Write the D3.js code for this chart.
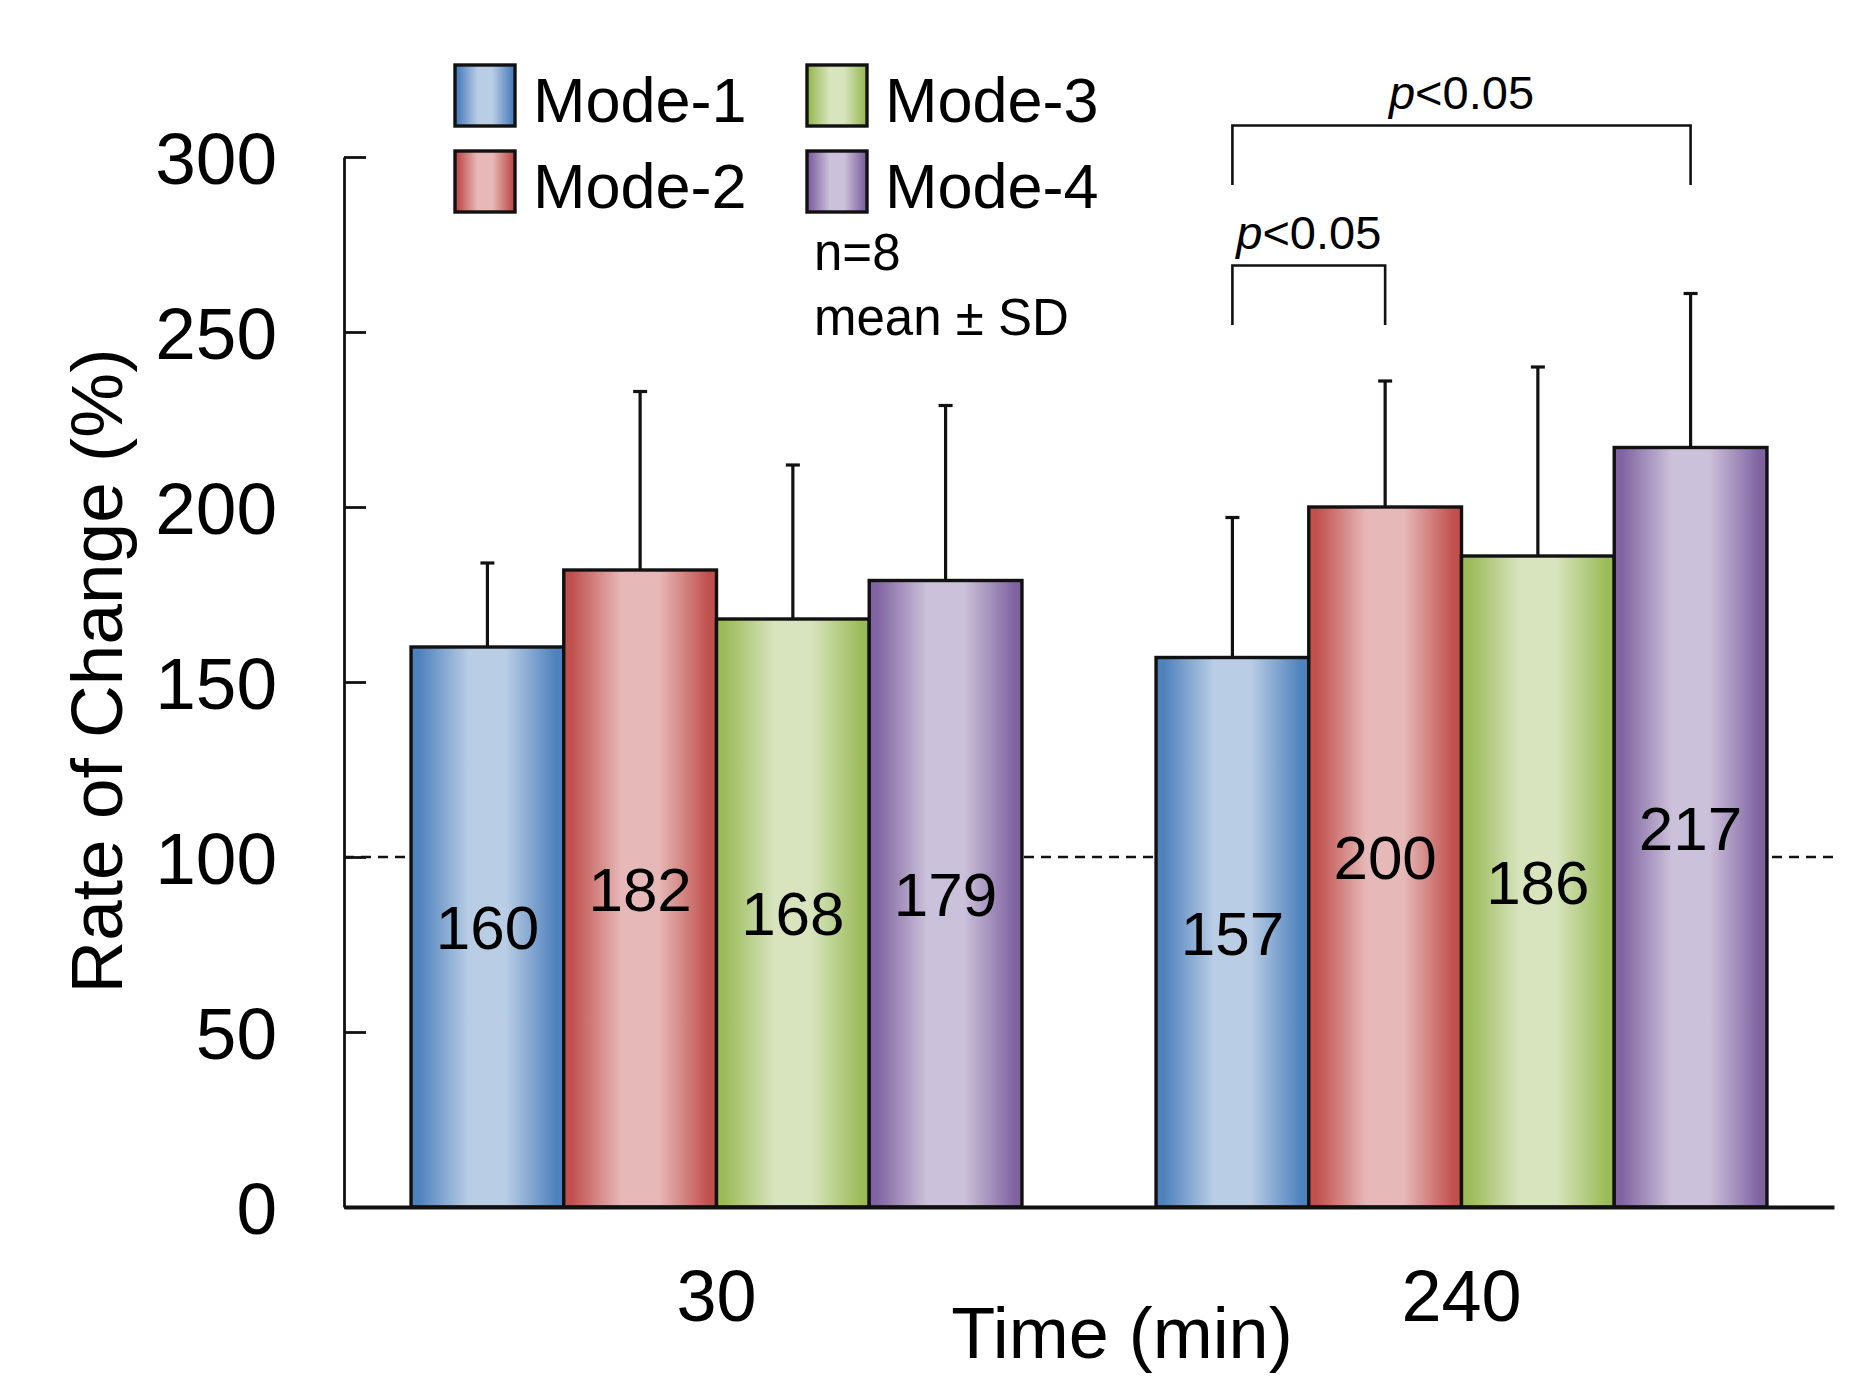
<!DOCTYPE html>
<html>
<head>
<meta charset="utf-8">
<script src="https://cdn.jsdelivr.net/npm/d3@7"></script>
<style>
  html, body { margin: 0; padding: 0; background: #fff; }
  svg { display: block; font-family: "Liberation Sans", Arial, sans-serif; }
</style>
</head>
<body>
<div id="chart"></div>
<script>
// Data
const times = ["30", "240"];
const modes = ["Mode-1", "Mode-2", "Mode-3", "Mode-4"];
const means30 = [160, 182, 168, 179];
const means240 = [157, 200, 186, 217];
const sd30 = [24, 51, 44, 50];
const sd240 = [40, 36, 54, 44];
const yTicks = [0, 50, 100, 150, 200, 250, 300];
const refLine = 100;
// significance brackets (group 240), heights in data units
const brackets = [
    { time: "240", from: "Mode-1", to: "Mode-4", top: 309, leg: 292, label: "<0.05" },
    { time: "240", from: "Mode-1", to: "Mode-2", top: 269, leg: 252, label: "<0.05" }
];

const edgeColors = ["#4f81bd", "#c0504d", "#9bbb59", "#8064a2"];
const lightColors = ["#b9cde5", "#e6b9b8", "#d7e4bd", "#ccc1da"];

const W = 1852, H = 1399;
const FONT = "'Liberation Sans', Arial, sans-serif";

const rows = [];
times.forEach((t, ti) => {
    const m = ti === 0 ? means30 : means240;
    const s = ti === 0 ? sd30 : sd240;
    modes.forEach((md, i) => rows.push({ time: t, mode: md, i, mean: m[i], sd: s[i] }));
});

const svg = d3.select("#chart").append("svg")
    .attr("width", W).attr("height", H);

// gradients: dark edges, light middle
const defs = svg.append("defs");
modes.forEach((md, i) => {
    const g = defs.append("linearGradient")
        .attr("id", "grad" + i)
        .attr("x1", "0%").attr("x2", "100%").attr("y1", "0%").attr("y2", "0%");
    [[0, edgeColors[i]], [0.05, edgeColors[i]], [0.38, lightColors[i]],
     [0.62, lightColors[i]], [0.95, edgeColors[i]], [1, edgeColors[i]]]
        .forEach(([o, c]) => g.append("stop").attr("offset", o).attr("stop-color", c));
});

const y = d3.scaleLinear().domain([0, 300]).range([1207, 157]);
const x0 = d3.scaleBand().domain(times).range([344, 1834])
    .paddingInner(0.18).paddingOuter(0.09);
const x1 = d3.scaleBand().domain(modes).range([0, x0.bandwidth()]);
const cx = d => x0(d.time) + x1(d.mode) + x1.bandwidth() / 2;

// dashed 100% reference line (behind bars)
svg.append("line")
    .attr("x1", 344).attr("x2", 1834)
    .attr("y1", y(refLine)).attr("y2", y(refLine))
    .attr("stroke", "#111").attr("stroke-width", 2.6)
    .attr("stroke-dasharray", "10,7");

// error bars (upper SD only)
const err = svg.append("g").attr("stroke", "#111").attr("stroke-width", 3.2);
err.selectAll("line.v").data(rows).join("line").attr("class", "v")
    .attr("x1", cx).attr("x2", cx)
    .attr("y1", d => y(d.mean)).attr("y2", d => y(d.mean + d.sd));
err.selectAll("line.c").data(rows).join("line").attr("class", "c")
    .attr("x1", d => cx(d) - 7).attr("x2", d => cx(d) + 7)
    .attr("y1", d => y(d.mean + d.sd)).attr("y2", d => y(d.mean + d.sd));

// bars
svg.append("g").selectAll("rect").data(rows).join("rect")
    .attr("x", d => x0(d.time) + x1(d.mode))
    .attr("y", d => y(d.mean))
    .attr("width", x1.bandwidth())
    .attr("height", d => y(0) - y(d.mean))
    .attr("fill", d => `url(#grad${d.i})`)
    .attr("stroke", "#111").attr("stroke-width", 3.4);

// value labels in the middle of each bar
svg.append("g").selectAll("text").data(rows).join("text")
    .attr("x", cx)
    .attr("y", d => y(d.mean / 2))
    .attr("dy", "0.36em")
    .attr("text-anchor", "middle")
    .attr("font-size", 62)
    .attr("fill", "#000")
    .text(d => d.mean);

// y axis
const yAxis = svg.append("g")
    .attr("transform", "translate(344,0)")
    .call(d3.axisLeft(y).tickValues(yTicks).tickSize(-22).tickSizeOuter(0).tickPadding(67));
yAxis.select(".domain").attr("stroke", "#111").attr("stroke-width", 2.8);
yAxis.selectAll(".tick line").attr("stroke", "#111").attr("stroke-width", 2.8);
yAxis.selectAll(".tick text")
    .attr("font-size", 73).attr("font-family", FONT).attr("fill", "#000").attr("dy", "0.36em");

// x axis
const xAxis = svg.append("g")
    .attr("transform", `translate(0,${y(0)})`)
    .call(d3.axisBottom(x0).tickSize(0).tickSizeOuter(0).tickPadding(63));
xAxis.select(".domain").attr("stroke", "#111").attr("stroke-width", 3.8);
xAxis.selectAll(".tick text")
    .attr("font-size", 72).attr("font-family", FONT).attr("fill", "#000");

// axis titles
svg.append("text")
    .attr("transform", "translate(122,671) rotate(-90)")
    .attr("text-anchor", "middle")
    .attr("font-size", 73)
    .text("Rate of Change (%)");
svg.append("text")
    .attr("x", 1122).attr("y", 1358)
    .attr("text-anchor", "middle")
    .attr("font-size", 72)
    .text("Time (min)");

// legend
const legend = svg.append("g");
const legendPos = [[455, 65], [455, 151], [807, 65], [807, 151]];
modes.forEach((md, i) => {
    const [lx, ly] = legendPos[i];
    legend.append("rect")
        .attr("x", lx).attr("y", ly).attr("width", 60).attr("height", 61)
        .attr("fill", `url(#grad${i})`)
        .attr("stroke", "#111").attr("stroke-width", 3.4);
    legend.append("text")
        .attr("x", lx + 78).attr("y", ly + 57)
        .attr("font-size", 63)
        .text(md);
});

svg.append("text").attr("x", 814).attr("y", 270).attr("font-size", 51).text("n=8");
svg.append("text").attr("x", 814).attr("y", 335).attr("font-size", 51).text("mean \u00B1 SD");

// significance brackets
const br = svg.append("g");
brackets.forEach(b => {
    const xa = x0(b.time) + x1(b.from) + x1.bandwidth() / 2;
    const xb = x0(b.time) + x1(b.to) + x1.bandwidth() / 2;
    br.append("path")
        .attr("d", `M${xa},${y(b.leg)}V${y(b.top)}H${xb}V${y(b.leg)}`)
        .attr("fill", "none").attr("stroke", "#111").attr("stroke-width", 2.6);
    const t = br.append("text")
        .attr("x", (xa + xb) / 2).attr("y", y(b.top) - 17)
        .attr("text-anchor", "middle")
        .attr("font-size", 47);
    t.append("tspan").attr("font-style", "italic").text("p");
    t.append("tspan").text(b.label);
});
</script>
</body>
</html>
